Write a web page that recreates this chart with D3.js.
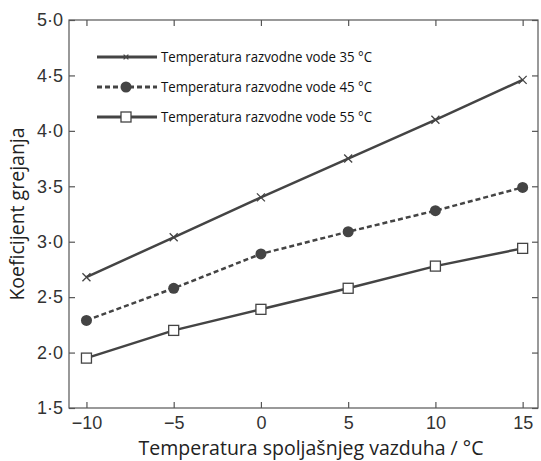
<!DOCTYPE html>
<html>
<head>
<meta charset="utf-8">
<script src="https://cdn.jsdelivr.net/npm/d3@7"></script>
<style>
  body { margin: 0; background: #fff; }
  svg { display: block; font-family: "Open Sans", sans-serif; }
</style>
</head>
<body>
<div id="chart"></div>
<script>
/* heating coefficient vs outdoor air temperature */
const temps = [-10, -5, 0, 5, 10, 15];
const vals35 = [2.68, 3.04, 3.40, 3.75, 4.10, 4.46];
const vals45 = [2.29, 2.58, 2.89, 3.09, 3.28, 3.49];
const vals55 = [1.95, 2.20, 2.39, 2.58, 2.78, 2.94];
const seriesNames = ["Temperatura razvodne vode 35 °C", "Temperatura razvodne vode 45 °C", "Temperatura razvodne vode 55 °C"];
const yTicks = [1.5, 2.0, 2.5, 3.0, 3.5, 4.0, 4.5, 5.0];

const width = 541, height = 461,
  margin = ({ top: 20, right: 3, bottom: 53, left: 69 });
const ink = "#444";

let svg = d3.select("#chart").append("svg")
  .attr("width", width).attr("height", height);

let x = d3.scaleLinear()
  .domain([-11, 15.88])
  .range([margin.left, width - margin.right]);

let y = d3.scaleLinear()
  .domain([1.5, 5.0])
  .range([height - margin.bottom, margin.top]);

const fmt = d => d3.format(".1f")(d).replace(".", "·");

// frame
svg.append("rect")
  .attr("x", margin.left).attr("y", margin.top)
  .attr("width", width - margin.right - margin.left)
  .attr("height", height - margin.bottom - margin.top)
  .attr("fill", "none").attr("stroke", "#555").attr("stroke-width", 1.2);

// axes with inner ticks
let xb = svg.append("g")
  .attr("transform", `translate(0,${height - margin.bottom})`)
  .call(d3.axisBottom(x).tickValues(temps).tickSizeInner(-6).tickSizeOuter(0)
    .tickFormat(d => d < 0 ? "\u2212" + Math.abs(d) : d));
xb.select(".domain").remove();
xb.selectAll("text").attr("dy", "1.0em").style("font-size", "18px").attr("fill", "#333");

let xt = svg.append("g")
  .attr("transform", `translate(0,${margin.top})`)
  .call(d3.axisTop(x).tickValues(temps).tickSizeInner(-6).tickSizeOuter(0).tickFormat(""));
xt.select(".domain").remove();

let yl = svg.append("g")
  .attr("transform", `translate(${margin.left},0)`)
  .call(d3.axisLeft(y).tickValues(yTicks).tickSizeInner(-6).tickSizeOuter(0).tickFormat(fmt));
yl.select(".domain").remove();
yl.selectAll("text").attr("x", -6).style("font-size", "18px").attr("fill", "#333");

let yr = svg.append("g")
  .attr("transform", `translate(${width - margin.right},0)`)
  .call(d3.axisRight(y).tickValues(yTicks).tickSizeInner(-6).tickSizeOuter(0).tickFormat(""));
yr.select(".domain").remove();

svg.selectAll(".tick line").attr("stroke", "#555").attr("stroke-width", 1.2);

// axis titles
svg.append("text")
  .attr("x", 311).attr("y", height - 6)
  .attr("text-anchor", "middle")
  .style("font-size", "19.5px").attr("fill", "#222")
  .text("Temperatura spoljašnjeg vazduha / °C");

svg.append("text")
  .attr("transform", "rotate(-90)")
  .attr("x", -214).attr("y", 24)
  .attr("text-anchor", "middle")
  .style("font-size", "19.5px").attr("fill", "#222")
  .text("Koeficijent grejanja");

// series
const series = [
  { name: seriesNames[0], values: vals35, dash: null, marker: "cross" },
  { name: seriesNames[1], values: vals45, dash: "5,3", marker: "circle" },
  { name: seriesNames[2], values: vals55, dash: null, marker: "square" }
];

let line = d3.line().x(d => x(d[0])).y(d => y(d[1]));

function drawMarker(g, type, cx, cy, k = 1) {
  if (type === "cross") {
    let h = 4 * k;
    g.append("path")
      .attr("d", `M${cx - h},${cy - h}L${cx + h},${cy + h}M${cx - h},${cy + h}L${cx + h},${cy - h}`)
      .attr("stroke", ink).attr("stroke-width", 1.3);
  } else if (type === "circle") {
    g.append("circle").attr("cx", cx).attr("cy", cy).attr("r", 5.5).attr("fill", ink);
  } else {
    g.append("rect").attr("x", cx - 5).attr("y", cy - 5).attr("width", 10).attr("height", 10)
      .attr("fill", "#fff").attr("stroke", ink).attr("stroke-width", 1.3);
  }
}

series.forEach(s => {
  let pts = temps.map((t, i) => [t, s.values[i]]);
  let g = svg.append("g");
  g.append("path")
    .attr("d", line(pts))
    .attr("fill", "none").attr("stroke", ink).attr("stroke-width", 2.5)
    .attr("stroke-dasharray", s.dash);
  pts.forEach(p => drawMarker(g, s.marker, x(p[0]), y(p[1])));
});

// legend
let legend = svg.append("g");
series.forEach((s, i) => {
  let ly = 57 + i * 30;
  legend.append("line")
    .attr("x1", 97).attr("x2", 157).attr("y1", ly).attr("y2", ly)
    .attr("stroke", ink).attr("stroke-width", 3)
    .attr("stroke-dasharray", s.dash);
  drawMarker(legend, s.marker, 126, ly, 0.6);
  legend.append("text")
    .attr("x", 161).attr("y", ly).attr("dy", "0.35em")
    .attr("textLength", 211).attr("lengthAdjust", "spacingAndGlyphs")
    .style("font-size", "15px").attr("fill", "#111")
    .text(s.name);
});
</script>
</body>
</html>
